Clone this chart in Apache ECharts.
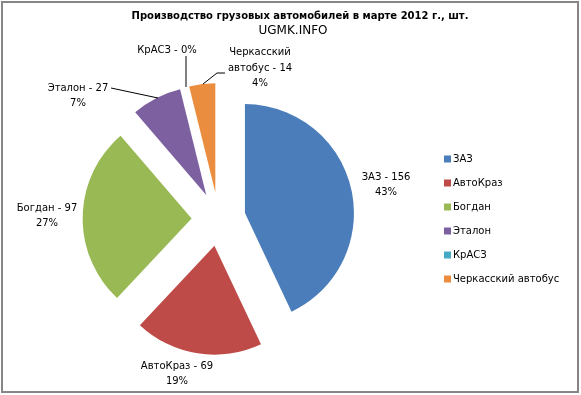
<!DOCTYPE html>
<html>
<head>
<meta charset="utf-8">
<script src="https://cdn.jsdelivr.net/npm/echarts@6/dist/echarts.min.js"></script>
<style>html,body{margin:0;padding:0;background:#fff;}#c{width:581px;height:395px;}</style>
</head>
<body>
<div id="c"></div>
<script>
// ---- data ----
const categories = ['ЗАЗ', 'АвтоКраз', 'Богдан', 'Эталон', 'КрАСЗ', 'Черкасский автобус'];
const values = [156, 69, 97, 27, 0, 14];
const colors = ['#4A7DB9', '#BE4B48', '#98B954', '#7D60A0', '#46AAC5', '#EB8D3F'];
const titleText = 'Производство грузовых автомобилей в марте 2012 г., шт.';
const subTitleText = 'UGMK.INFO';

// ---- label placement (styling only) ----
const labelPlace = [
  { x: 386, y: 185 },
  { x: 177, y: 374 },
  { x: 47, y: 216 },
  { x: 78, y: 96, line: [[111, 88], [158, 98]] },
  { x: 167, y: 50, line: [[186, 56], [186, 87]] },
  { x: 260, y: 68, line: [[225, 73], [217, 73], [203, 84]] }
];

const FONT = 'DejaVu Sans';
const total = values.reduce((a, b) => a + b, 0);

function labelText(i) {
  const nm = categories[i].replace(' ', '\n');
  const pct = Math.round(values[i] / total * 100) + '%';
  if (values[i] === 0) return nm + ' - ' + pct;
  return nm + ' - ' + values[i] + '\n' + pct;
}

const graphics = [{
  type: 'rect', silent: true, z: 100,
  shape: { x: 2, y: 2, width: 576, height: 390 },
  style: { fill: 'none', stroke: '#868686', lineWidth: 2 }
}];
categories.forEach((c, i) => {
  const pl = labelPlace[i];
  graphics.push({
    type: 'text', silent: true, z: 50,
    style: {
      text: labelText(i), x: pl.x, y: pl.y,
      align: 'center', verticalAlign: 'middle',
      font: '10px "' + FONT + '"', lineHeight: 15.5, fill: '#000'
    }
  });
  if (pl.line) {
    graphics.push({
      type: 'polyline', silent: true, z: 50,
      shape: { points: pl.line },
      style: { stroke: '#000', lineWidth: 1, fill: 'none' }
    });
  }
});

const data = categories.map((n, i) => ({
  name: n,
  value: values[i],
  selected: true,
  itemStyle: { color: colors[i] }
}));

const chart = echarts.init(document.getElementById('c'), null, { renderer: 'canvas' });
chart.setOption({
  animation: false,
  title: [
    { text: titleText, left: 295, top: 6, textAlign: 'center',
      textStyle: { fontFamily: FONT, fontSize: 10, fontWeight: 'bold', color: '#000' } },
    { text: subTitleText, left: 288, top: 20, textAlign: 'center',
      textStyle: { fontFamily: FONT, fontSize: 12, fontWeight: 'normal', color: '#000' } }
  ],
  legend: {
    orient: 'vertical',
    left: 444,
    top: 154,
    padding: 0,
    itemWidth: 7,
    itemHeight: 7,
    itemGap: 14,
    icon: 'rect',
    selectedMode: false,
    data: categories,
    textStyle: { fontFamily: FONT, fontSize: 10, color: '#000', padding: [0, 0, 0, -3] }
  },
  graphic: graphics,
  series: [{
    type: 'pie',
    center: [218.6, 219],
    radius: 109,
    startAngle: 90,
    clockwise: true,
    selectedMode: 'multiple',
    selectedOffset: 27,
    emphasis: { disabled: true },
    itemStyle: { borderWidth: 0 },
    label: { show: false },
    labelLine: { show: false },
    data: data
  }]
});
</script>
</body>
</html>
